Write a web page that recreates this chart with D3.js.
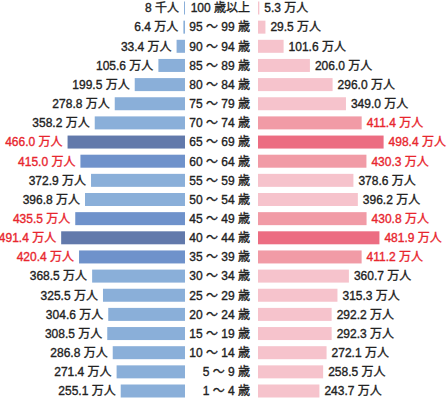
<!DOCTYPE html>
<html>
<head>
<meta charset="utf-8">
<script src="https://cdn.jsdelivr.net/npm/d3@7"></script>
<style>
  body { margin: 0; background: #fff; }
  svg text {
    font-family: "Liberation Sans", "Noto Sans CJK JP", sans-serif;
    font-size: 12px;
    stroke-width: 0.35px;
  }
</style>
</head>
<body>
<div id="chart"></div>
<script>
// age groups, top to bottom
const ages = ['100 歳以上', '95 ～ 99 歳', '90 ～ 94 歳', '85 ～ 89 歳', '80 ～ 84 歳', '75 ～ 79 歳',
    '70 ～ 74 歳', '65 ～ 69 歳', '60 ～ 64 歳', '55 ～ 59 歳', '50 ～ 54 歳', '45 ～ 49 歳',
    '40 ～ 44 歳', '35 ～ 39 歳', '30 ～ 34 歳', '25 ～ 29 歳', '20 ～ 24 歳', '15 ～ 19 歳',
    '10 ～ 14 歳', '5 ～ 9 歳', '1 ～ 4 歳'];
// 万人
const male = [0.8, 6.4, 33.4, 105.6, 199.5, 278.8, 358.2, 466.0, 415.0, 372.9, 396.8, 435.5,
    491.4, 420.4, 368.5, 325.5, 304.6, 308.5, 286.8, 271.4, 255.1];
const female = [5.3, 29.5, 101.6, 206.0, 296.0, 349.0, 411.4, 498.4, 430.3, 378.6, 396.2, 430.8,
    481.9, 411.2, 360.7, 315.3, 292.2, 292.3, 272.1, 258.5, 243.7];

const width = 447, height = 399;
const leftAxis = 185, rightAxis = 258, labelRight = 250;
const barH = 13;

const svg = d3.select('#chart').append('svg')
    .attr('width', width)
    .attr('height', height);

const y = d3.scalePoint().domain(ages).range([8, 391]);
const x = d3.scaleLinear().domain([0, 500]).range([0, 126]);

const fmt = v => v < 1 ? `${Math.round(v * 10)} 千人` : `${v.toFixed(1)} 万人`;
const maleColor = v => v > 450 ? '#6279ab' : v > 400 ? '#6f92cb' : '#8aafd9';
const femaleColor = v => v > 450 ? '#ec6d82' : v > 400 ? '#f19ba6' : '#f6c3cc';
const textColor = v => v > 400 ? '#e8262e' : '#222';

const rows = ages.map((a, i) => ({ age: a, m: male[i], f: female[i] }));

// male bars (left)
svg.selectAll('.m-bar')
    .data(rows)
    .enter()
    .append('rect')
    .attr('x', d => leftAxis - Math.max(x(d.m), 1))
    .attr('y', d => y(d.age) - barH / 2)
    .attr('width', d => Math.max(x(d.m), 1))
    .attr('height', barH)
    .style('fill', d => maleColor(d.m));

svg.selectAll('.m-label')
    .data(rows)
    .enter()
    .append('text')
    .attr('x', d => leftAxis - Math.max(x(d.m), 1) - 5)
    .attr('y', d => y(d.age))
    .attr('dy', '0.36em')
    .attr('text-anchor', 'end')
    .style('fill', d => textColor(d.m))
    .style('stroke', d => textColor(d.m))
    .text(d => fmt(d.m));

// female bars (right)
svg.selectAll('.f-bar')
    .data(rows)
    .enter()
    .append('rect')
    .attr('x', rightAxis)
    .attr('y', d => y(d.age) - barH / 2)
    .attr('width', d => Math.max(x(d.f), 1))
    .attr('height', barH)
    .style('fill', d => femaleColor(d.f));

svg.selectAll('.f-label')
    .data(rows)
    .enter()
    .append('text')
    .attr('x', d => rightAxis + Math.max(x(d.f), 1) + 5)
    .attr('y', d => y(d.age))
    .attr('dy', '0.36em')
    .style('fill', d => textColor(d.f))
    .style('stroke', d => textColor(d.f))
    .text(d => fmt(d.f));

// age labels in the middle
svg.selectAll('.age')
    .data(rows)
    .enter()
    .append('text')
    .attr('x', labelRight)
    .attr('y', d => y(d.age))
    .attr('dy', '0.36em')
    .attr('text-anchor', 'end')
    .style('fill', '#222')
    .style('stroke', '#222')
    .text(d => d.age);
</script>
</body>
</html>
